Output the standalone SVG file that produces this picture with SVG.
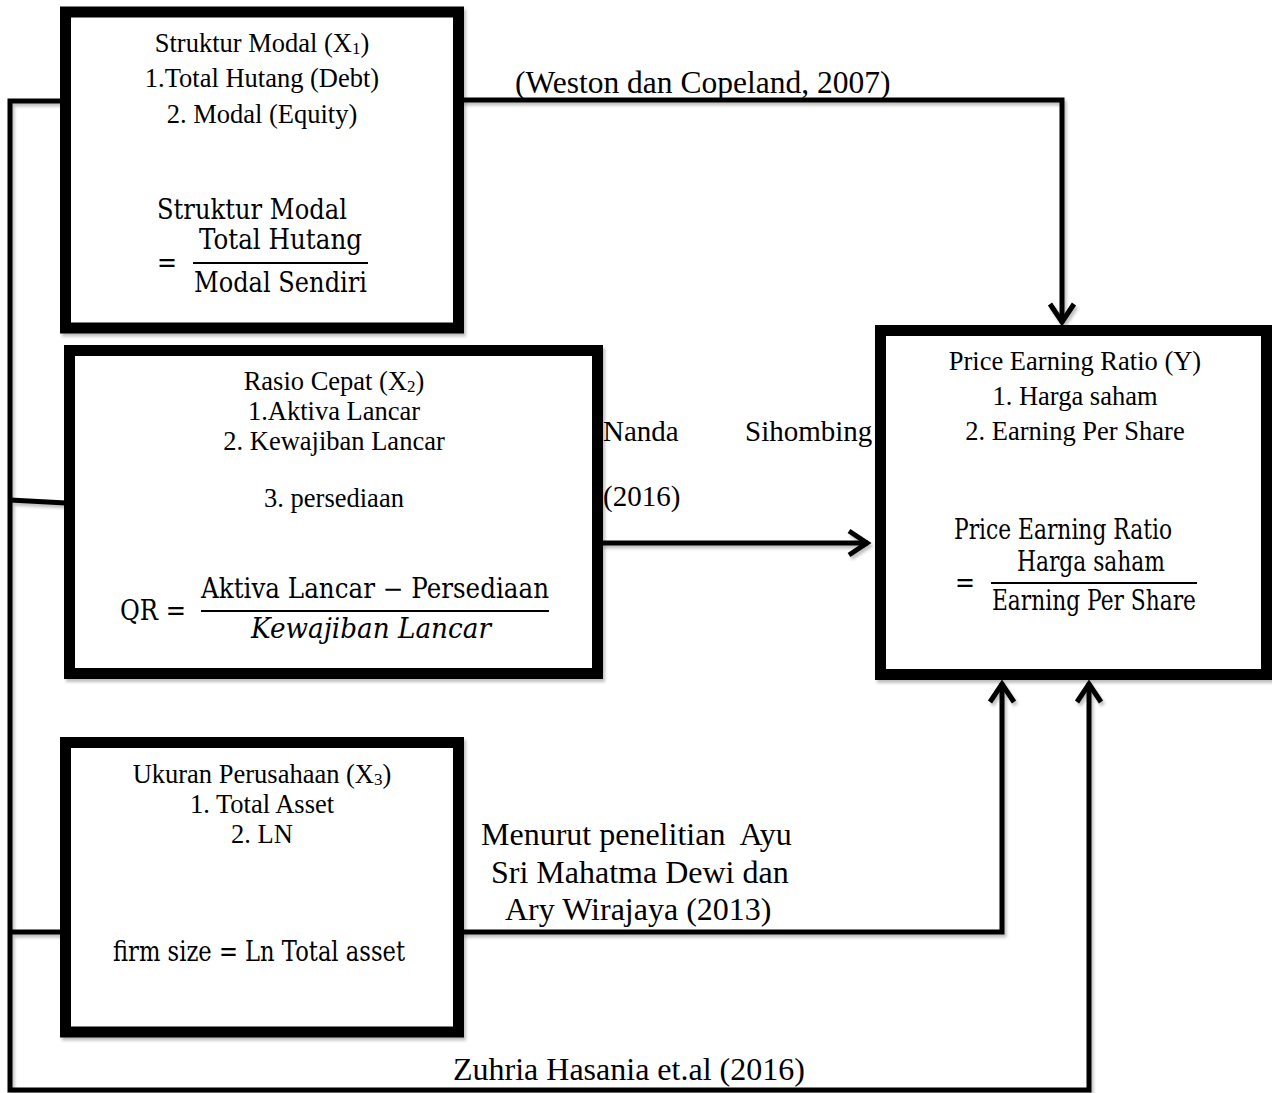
<svg xmlns="http://www.w3.org/2000/svg" width="1272" height="1093" viewBox="0 0 1272 1093">
<defs>
<style>
.box{fill:#fff;stroke:#000;stroke-width:11}
.t{font-family:"Liberation Serif","Times New Roman",serif;font-size:26.5px;fill:#000;text-anchor:middle}
.c{font-family:"Liberation Serif","Times New Roman",serif;font-size:32px;fill:#000}
.m{font-family:"DejaVu Serif",serif;font-size:27px;fill:#000}
.mi{font-family:"DejaVu Serif",serif;font-size:27px;font-style:italic;fill:#000}
.ln{fill:none;stroke:#000;stroke-width:5}
.fr{stroke:#000;stroke-width:2}
</style>
<marker id="ah" markerUnits="userSpaceOnUse" markerWidth="40" markerHeight="40" viewBox="-30 -20 40 40" refX="0" refY="0" orient="auto">
<path d="M-19,-12 L-1,0 L-19,12" fill="none" stroke="#000" stroke-width="5" stroke-linejoin="miter"/>
</marker>
<filter id="sh" x="-5%" y="-5%" width="110%" height="110%">
<feDropShadow dx="2" dy="3" stdDeviation="1.5" flood-color="#000" flood-opacity="0.25"/>
</filter>
</defs>

<g id="connectors" filter="url(#sh)">
<polyline class="ln" points="62,101 10,101 10,1090 1089,1090 1089,683" marker-end="url(#ah)"/>
<line class="ln" x1="10" y1="500" x2="66" y2="503"/>
<line class="ln" x1="10" y1="932" x2="62" y2="932"/>
<polyline class="ln" points="462,100 1062,100 1062,323" marker-end="url(#ah)"/>
<line class="ln" x1="601" y1="543" x2="868" y2="543" marker-end="url(#ah)"/>
<polyline class="ln" points="462,932 1002,932 1002,683" marker-end="url(#ah)"/>
</g>

<g id="labels">
<text class="c" x="515" y="93" style="font-size:31.5px">(Weston dan Copeland, 2007)</text>
<text class="c" x="603" y="441" style="font-size:29px">Nanda</text>
<text class="c" x="745" y="441" style="font-size:29px">Sihombing</text>
<text class="c" x="603" y="506" style="font-size:29px">(2016)</text>
<text class="c" x="481" y="845" xml:space="preserve">Menurut penelitian  Ayu</text>
<text class="c" x="491" y="883">Sri Mahatma Dewi dan</text>
<text class="c" x="505" y="920">Ary Wirajaya (2013)</text>
<text class="c" x="453" y="1080">Zuhria Hasania et.al (2016)</text>
</g>

<g id="node-x1">
<rect class="box" x="65.5" y="12" width="393" height="316" filter="url(#sh)"/>
<text class="t" x="262" y="52">Struktur Modal (X<tspan font-size="17" dy="2">1</tspan><tspan dy="-2">)</tspan></text>
<text class="t" x="262" y="87">1.Total Hutang (Debt)</text>
<text class="t" x="262" y="123">2. Modal (Equity)</text>
<text class="m" x="157" y="219" textLength="190" lengthAdjust="spacingAndGlyphs">Struktur Modal</text>
<text class="m" x="157" y="272" textLength="20" lengthAdjust="spacingAndGlyphs">=</text>
<text class="m" x="199" y="249" textLength="163" lengthAdjust="spacingAndGlyphs">Total Hutang</text>
<line class="fr" x1="193" y1="263" x2="368" y2="263"/>
<text class="m" x="194" y="292" textLength="173" lengthAdjust="spacingAndGlyphs">Modal Sendiri</text>
</g>

<g id="node-x2">
<rect class="box" x="69.5" y="350.5" width="528" height="323" filter="url(#sh)"/>
<text class="t" x="334" y="390">Rasio Cepat (X<tspan font-size="17" dy="2">2</tspan><tspan dy="-2">)</tspan></text>
<text class="t" x="334" y="420">1.Aktiva Lancar</text>
<text class="t" x="334" y="450">2. Kewajiban Lancar</text>
<text class="t" x="334" y="507">3. persediaan</text>
<text class="m" x="120" y="620" textLength="66" lengthAdjust="spacingAndGlyphs">QR =</text>
<text class="m" x="201" y="598" textLength="348" lengthAdjust="spacingAndGlyphs">Aktiva Lancar − Persediaan</text>
<line class="fr" x1="201" y1="611" x2="549" y2="611"/>
<text class="mi" x="251" y="638" textLength="240" lengthAdjust="spacingAndGlyphs">Kewajiban Lancar</text>
</g>

<g id="node-x3">
<rect class="box" x="65.5" y="742.5" width="393" height="289.5" filter="url(#sh)"/>
<text class="t" x="262" y="783">Ukuran Perusahaan (X<tspan font-size="17" dy="2">3</tspan><tspan dy="-2">)</tspan></text>
<text class="t" x="262" y="813">1. Total Asset</text>
<text class="t" x="262" y="843">2. LN</text>
<text class="m" x="113" y="961" textLength="292" lengthAdjust="spacingAndGlyphs">firm size = Ln Total asset</text>
</g>

<g id="node-y">
<rect class="box" x="880.5" y="330.5" width="386" height="344" filter="url(#sh)"/>
<text class="t" x="1075" y="370">Price Earning Ratio (Y)</text>
<text class="t" x="1075" y="405">1. Harga saham</text>
<text class="t" x="1075" y="440">2. Earning Per Share</text>
<text class="m" x="954" y="539" textLength="218" lengthAdjust="spacingAndGlyphs">Price Earning Ratio</text>
<text class="m" x="955" y="592" textLength="20" lengthAdjust="spacingAndGlyphs">=</text>
<text class="m" x="1017" y="571" textLength="148" lengthAdjust="spacingAndGlyphs">Harga saham</text>
<line class="fr" x1="991" y1="583" x2="1197" y2="583"/>
<text class="m" x="992" y="610" textLength="204" lengthAdjust="spacingAndGlyphs">Earning Per Share</text>
</g>
</svg>
